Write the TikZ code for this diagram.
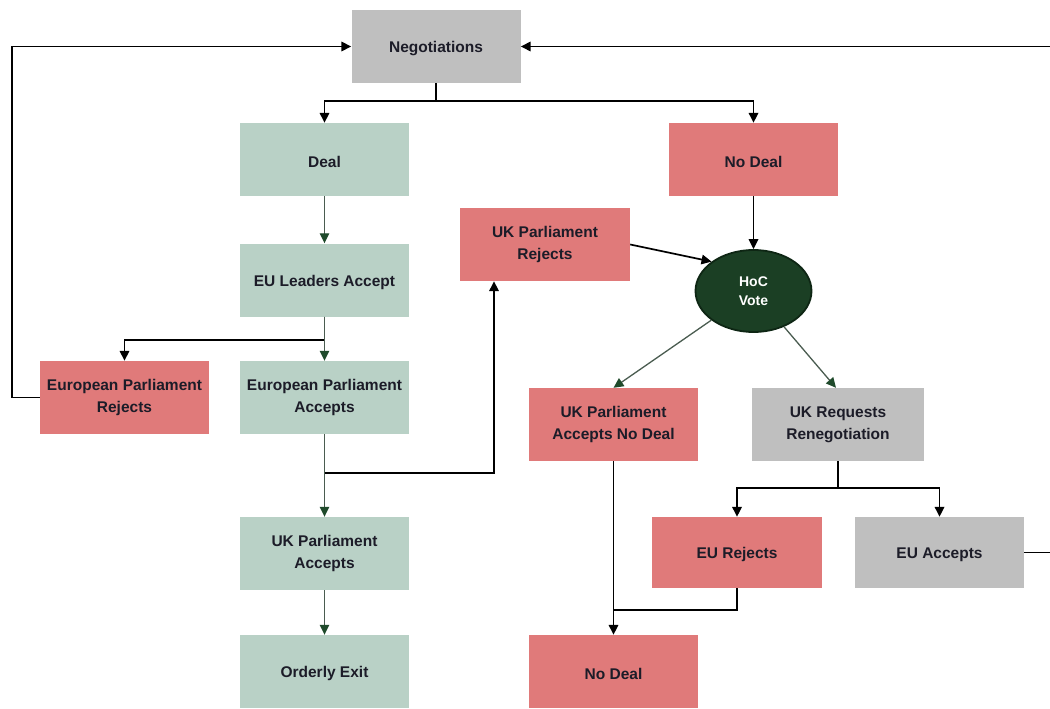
\documentclass[tikz,border=0pt]{standalone}
\usepackage{fontspec}
\setmainfont{Liberation Sans}
\usetikzlibrary{arrows.meta,shapes.geometric,calc}
\definecolor{gbox}{HTML}{B9D1C6}
\definecolor{rbox}{HTML}{E07A7A}
\definecolor{grbox}{HTML}{BFBFBF}
\definecolor{hocfill}{HTML}{1B3F24}
\definecolor{hocline}{HTML}{0E2614}
\definecolor{gline}{HTML}{4A5C50}
\definecolor{gtip}{HTML}{1F4A2B}
\definecolor{txt}{HTML}{1C1C28}
\begin{document}
\begin{tikzpicture}[x=1pt,y=-1pt,
  box/.style={minimum width=169pt,minimum height=73pt,inner sep=0pt,align=center,
    font=\fontsize{15.5}{22}\selectfont\bfseries,text=txt,
    execute at begin node={\rule{0pt}{15.5pt}}},
  gb/.style={box,fill=gbox},
  rb/.style={box,fill=rbox},
  yb/.style={box,fill=grbox},
  blk/.style={draw=black,line width=1.7pt,-{Triangle[length=10pt,width=9.5pt]}},
  ln/.style={draw=black,line width=1.7pt},
  grn/.style={draw=gline,line width=1.3pt,-{Triangle[length=10pt,width=9.5pt,color=gtip]}}
]
\useasboundingbox (0,0) rectangle (1050,709);

\node[yb] (neg) at (436,46.5) {Negotiations};
\node[gb] (deal) at (324.5,159.5) {Deal};
\node[rb] (nodealA) at (753.5,159.5) {No Deal};
\node[gb] (eul) at (324.5,280) {EU Leaders Accept};
\node[rb,minimum width=170pt] (ukpr) at (545,244.5) {UK Parliament\\Rejects};
\node[ellipse,fill=hocfill,draw=hocline,line width=1.8pt,minimum width=116pt,minimum height=82pt,
  inner sep=0pt,align=center,text=white,font=\fontsize{14}{19.5}\selectfont\bfseries] (hoc) at (753.5,291) {HoC\\Vote};
\node[rb] (epr) at (124.5,397.5) {European Parliament\\Rejects};
\node[gb] (epa) at (324.5,397.5) {European Parliament\\Accepts};
\node[rb] (ukpand) at (613.5,424.5) {UK Parliament\\Accepts No Deal};
\node[yb,minimum width=172pt] (ukrr) at (838,424.5) {UK Requests\\Renegotiation};
\node[gb] (ukpa) at (324.5,553.5) {UK Parliament\\Accepts};
\node[rb,minimum width=170pt,minimum height=71pt] (eurej) at (737,552.5) {EU Rejects};
\node[yb,minimum height=71pt] (euacc) at (939.5,552.5) {EU Accepts};
\node[gb] (exit) at (324.5,671.5) {Orderly Exit};
\node[rb] (nodealB) at (613.5,671.5) {No Deal};

% connectors
\draw[blk] (neg.south) -- ++(0,18) -| (deal.north);
\draw[blk] (neg.south) -- ++(0,18) -| (nodealA.north);
\draw[grn] (deal) -- (eul);
\draw[blk] (eul.south) -- ++(0,23) -| (epr.north);
\draw[grn] (eul) -- (epa);
\draw[blk] (epr.west) -- ++(-28,0) |- (neg.west);
\draw[grn] (epa) -- (ukpa);
\draw[blk] (epa.south) ++(0,39) -| ([xshift=-51pt]ukpr.south);
\draw[grn] (ukpa) -- (exit);
\draw[blk] (ukpr.east) -- (hoc.145);
\draw[blk] (nodealA) -- (hoc);
\draw[grn] (hoc) -- (ukpand.north);
\draw[grn] (hoc) -- ([xshift=-2pt]ukrr.north);
\draw[blk] (ukrr.south) -- ++(0,27) -| (eurej.north);
\draw[blk] (ukrr.south) -- ++(0,27) -| (euacc.north);
\draw[blk] (ukpand) -- (nodealB);
\draw[ln] (eurej.south) |- ($(ukpand.south)!0.857!(nodealB.north)$);
\draw[blk] (euacc.east) -- ++(30,0) |- (neg.east);
\end{tikzpicture}
\end{document}
